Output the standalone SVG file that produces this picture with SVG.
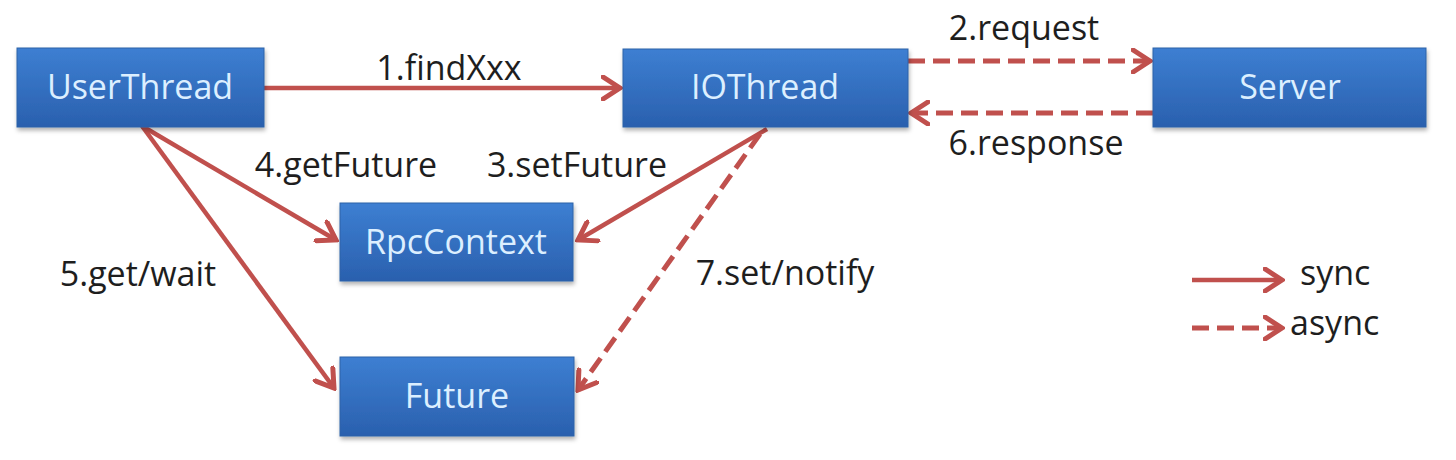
<svg xmlns="http://www.w3.org/2000/svg" width="1456" height="460" viewBox="0 0 1456 460">
  <defs>
    <linearGradient id="boxGrad" x1="0" y1="0" x2="0" y2="1">
      <stop offset="0" stop-color="#3D7FD2"/>
      <stop offset="1" stop-color="#2A60AE"/>
    </linearGradient>
    <filter id="shadow" x="-10%" y="-10%" width="120%" height="130%">
      <feDropShadow dx="1" dy="3" stdDeviation="2" flood-color="#000" flood-opacity="0.3"/>
    </filter>
    <marker id="arrow" markerUnits="userSpaceOnUse" viewBox="0 0 22 26" refX="19" refY="13" markerWidth="22" markerHeight="26" orient="auto">
      <path d="M2,2 L19,13 L2,24" fill="none" stroke="#C0504D" stroke-width="5" stroke-linejoin="miter" stroke-linecap="round"/>
    </marker>
    <style>
      .box { fill: url(#boxGrad); stroke: #2E62A8; stroke-width: 1; filter: url(#shadow); }
      .ntext { font-family: "Open Sans", "Liberation Sans", sans-serif; font-size: 34px; fill: #DCEFFF; text-anchor: middle; }
      .lbl { font-family: "Open Sans", "Liberation Sans", sans-serif; font-size: 34px; fill: #1E1E1E; text-anchor: middle; }
      .sync { stroke: #C0504D; stroke-width: 4.5; fill: none; marker-end: url(#arrow); }
      .async { stroke: #C0504D; stroke-width: 5; fill: none; stroke-dasharray: 17 8; marker-end: url(#arrow); }
    </style>
  </defs>

  <rect width="1456" height="460" fill="#FFFFFF"/>

  <g id="connectors">
    <line class="sync" x1="264" y1="88" x2="620" y2="88"/>
    <line class="async" x1="908" y1="61" x2="1150" y2="61"/>
    <line class="async" x1="1153" y1="113" x2="911" y2="113"/>
    <line class="sync" x1="142" y1="126" x2="336" y2="240"/>
    <line class="sync" x1="767" y1="129" x2="578" y2="240"/>
    <line class="sync" x1="142" y1="126" x2="334" y2="388"/>
    <line class="async" x1="760" y1="134" x2="578" y2="390"/>
    <text class="lbl" x="449" y="80">1.findXxx</text>
    <text class="lbl" x="1024" y="40">2.request</text>
    <text class="lbl" x="1036" y="155">6.response</text>
    <text class="lbl" x="346" y="177">4.getFuture</text>
    <text class="lbl" x="577" y="177">3.setFuture</text>
    <text class="lbl" x="138" y="286">5.get/wait</text>
    <text class="lbl" x="785" y="285">7.set/notify</text>
  </g>

  <g id="UserThread">
    <rect class="box" x="17" y="48" width="247" height="79"/>
    <text class="ntext" x="140" y="99">UserThread</text>
  </g>
  <g id="IOThread">
    <rect class="box" x="623" y="49" width="285" height="78"/>
    <text class="ntext" x="765" y="99">IOThread</text>
  </g>
  <g id="Server">
    <rect class="box" x="1153" y="48" width="273" height="79"/>
    <text class="ntext" x="1290" y="99">Server</text>
  </g>
  <g id="RpcContext">
    <rect class="box" x="340" y="203" width="233" height="78"/>
    <text class="ntext" x="456" y="254">RpcContext</text>
  </g>
  <g id="Future">
    <rect class="box" x="340" y="357" width="234" height="79"/>
    <text class="ntext" x="457" y="408">Future</text>
  </g>

  <g id="legend">
    <line class="sync" x1="1192" y1="280" x2="1282" y2="280"/>
    <text class="lbl" x="1300" y="285" style="text-anchor:start">sync</text>
    <line class="async" x1="1192" y1="328" x2="1282" y2="328"/>
    <text class="lbl" x="1290" y="335" style="text-anchor:start">async</text>
  </g>
</svg>
